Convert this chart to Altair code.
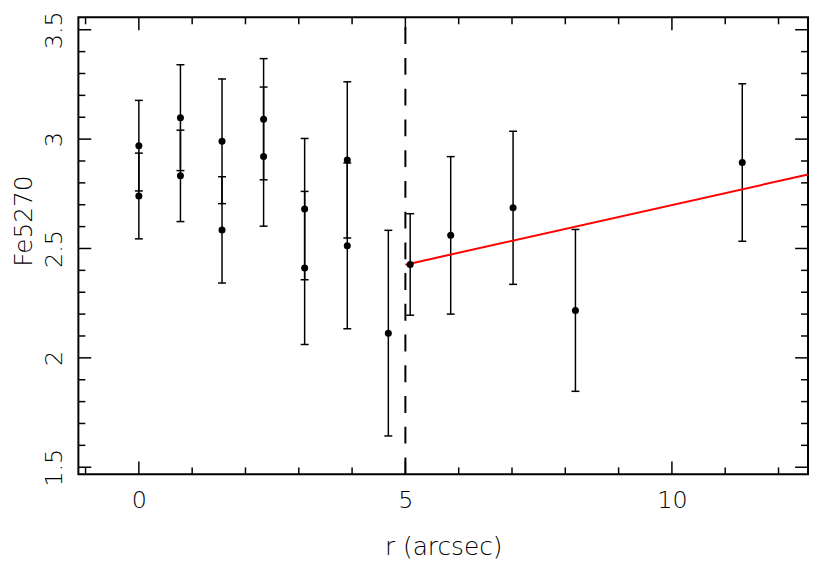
import altair as alt
import pandas as pd

# ---- data ----
r = [0.0, 0.0, 0.78, 0.78, 1.56, 1.56, 2.34, 2.34, 3.11, 3.11, 3.91, 3.91,
     4.68, 5.09, 5.85, 7.02, 8.19, 11.32]
fe = [2.970, 2.740, 3.098, 2.832, 2.990, 2.585, 3.091, 2.920, 2.680, 2.411,
      2.905, 2.512, 2.113, 2.427, 2.560, 2.686, 2.217, 2.893]
err = [0.207, 0.196, 0.242, 0.209, 0.285, 0.243, 0.277, 0.318, 0.323, 0.350,
       0.357, 0.379, 0.470, 0.232, 0.360, 0.350, 0.370, 0.360]

fit_r = [5.0, 12.553]
fit_fe = [2.426, 2.838]

break_r = [5.0]

x_major = [0, 5, 10]
x_minor = [-1, 1, 2, 3, 4, 6, 7, 8, 9, 11, 12]
y_major = [1.5, 2.0, 2.5, 3.0, 3.5]
y_minor = [1.6, 1.7, 1.8, 1.9, 2.1, 2.2, 2.3, 2.4, 2.6, 2.7, 2.8, 2.9,
           3.1, 3.2, 3.3, 3.4]

# ---- layout ----
W, H = 736, 461
XDOM = [-1.1345, 12.553]
YDOM = [1.4674, 3.5567]
FONT = "DejaVu Sans"
MAJ, MIN = 13, 7

xs = alt.Scale(domain=XDOM, nice=False, zero=False)
ys = alt.Scale(domain=YDOM, nice=False, zero=False)

df = pd.DataFrame({"r": r, "fe": fe, "err": err})
df["lo"] = df["fe"] - df["err"]
df["hi"] = df["fe"] + df["err"]

fit = pd.DataFrame({"r": fit_r, "fe": fit_fe})
brk = pd.DataFrame({"r": break_r})

xaxis = alt.Axis(values=x_major, format=".1~f", labelFont=FONT, labelFontSize=24,
                 labelFontWeight=300, labelColor="black", labelPadding=33,
                 labelBaseline="alphabetic", labelFlush=False, labelOverlap=False,
                 domain=False, ticks=False, tickSize=0, grid=False,
                 title="r (arcsec)", titleFont=FONT, titleFontSize=25,
                 titleFontWeight=300, titleColor="black",
                 titleBaseline="alphabetic", titleY=81)
yaxis = alt.Axis(values=y_major, format=".1~f", labelFont=FONT, labelFontSize=24,
                 labelFontWeight=300, labelColor="black", labelAngle=270,
                 labelAlign="center", labelBaseline="alphabetic", labelPadding=17,
                 labelFlush=False, labelOverlap=False,
                 domain=False, ticks=False, tickSize=0, grid=False,
                 title="Fe5270", titleFont=FONT, titleFontSize=25,
                 titleFontWeight=300, titleColor="black", titleAngle=270,
                 titleAlign="center", titleBaseline="alphabetic",
                 titleX=-47, titleY=205)


def X(field):
    return alt.X(field, scale=xs, axis=xaxis)


def Y(field):
    return alt.Y(field, scale=ys, axis=yaxis)


points = alt.Chart(df).mark_circle(size=50, color="black", opacity=1).encode(
    x=X("r:Q"), y=Y("fe:Q"))
bars = alt.Chart(df).mark_rule(color="black", strokeWidth=1.5).encode(
    x=X("r:Q"), y=Y("lo:Q"), y2="hi:Q")
cap_lo = alt.Chart(df).mark_tick(orient="horizontal", size=8, thickness=1.5,
                                 color="black", opacity=1).encode(
    x=X("r:Q"), y=Y("lo:Q"))
cap_hi = alt.Chart(df).mark_tick(orient="horizontal", size=8, thickness=1.5,
                                 color="black", opacity=1).encode(
    x=X("r:Q"), y=Y("hi:Q"))
dash = alt.Chart(brk).mark_rule(color="black", strokeWidth=2,
                                strokeDash=[17, 14]).encode(
    x=X("r:Q"), y=alt.value(H), y2=alt.value(0))
line = alt.Chart(fit).mark_line(color="#ff0000", strokeWidth=2).encode(
    x=X("r:Q"), y=Y("fe:Q"))


def xticks(vals, length):
    d = pd.DataFrame({"v": vals})
    b = alt.Chart(d).mark_rule(color="black", strokeWidth=1.5).encode(
        x=X("v:Q"), y=alt.value(H), y2=alt.value(H - length))
    t = alt.Chart(d).mark_rule(color="black", strokeWidth=1.5).encode(
        x=X("v:Q"), y=alt.value(0), y2=alt.value(length))
    return [b, t]


def yticks(vals, length):
    d = pd.DataFrame({"v": vals})
    lft = alt.Chart(d).mark_rule(color="black", strokeWidth=1.5).encode(
        y=Y("v:Q"), x=alt.value(0), x2=alt.value(length))
    rgt = alt.Chart(d).mark_rule(color="black", strokeWidth=1.5).encode(
        y=Y("v:Q"), x=alt.value(W), x2=alt.value(W - length))
    return [lft, rgt]


tick_layers = (xticks(x_major, MAJ) + xticks(x_minor, MIN)
               + yticks(y_major, MAJ) + yticks(y_minor, MIN))

chart = alt.layer(*tick_layers, dash, bars, cap_lo, cap_hi, line, points).properties(
    width=W, height=H,
    background="white",
    autosize=alt.AutoSizeParams(type="none"),
    padding={"left": 71, "top": 7, "right": 1, "bottom": 87},
).configure_view(stroke="black", strokeWidth=2)

chart.save("out.html", embed_options={"renderer": "svg", "actions": False})
